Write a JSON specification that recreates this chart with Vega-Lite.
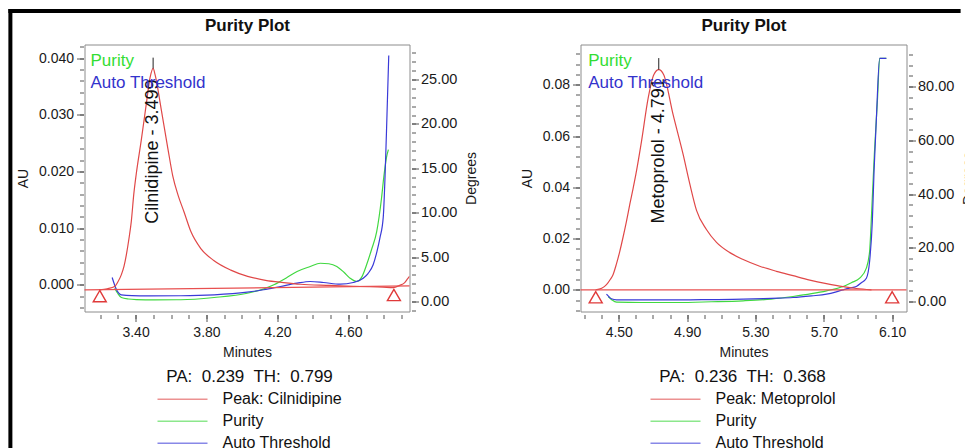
{
  "$schema": "https://vega.github.io/schema/vega-lite/v6.json",
  "padding": {"left": 6.5, "top": 7.5, "right": 0, "bottom": 0},
  "background": "white",
  "spacing": 171,
  "bounds": "flush",
  "resolve": {"scale": {"color": "independent"}, "legend": {"color": "independent"}},
  "datasets": {
    "peakL": [
      {"t":3.198,"v":-0.0009},{"t":3.240,"v":-0.0007},{"t":3.282,"v":-0.0003},{"t":3.300,"v":0.0005},{"t":3.320,"v":0.0018},{"t":3.335,"v":0.0033},{"t":3.348,"v":0.0053},{"t":3.362,"v":0.0080},{"t":3.376,"v":0.0112},{"t":3.390,"v":0.0160},{"t":3.404,"v":0.0196},{"t":3.432,"v":0.0255},{"t":3.460,"v":0.0318},{"t":3.482,"v":0.0366},{"t":3.499,"v":0.0382},{"t":3.510,"v":0.0371},{"t":3.544,"v":0.0311},{"t":3.582,"v":0.0241},{"t":3.610,"v":0.0192},{"t":3.640,"v":0.0158},{"t":3.673,"v":0.0129},{"t":3.712,"v":0.0094},{"t":3.768,"v":0.0064},{"t":3.841,"v":0.0043},{"t":3.937,"v":0.0026},{"t":4.032,"v":0.0015},{"t":4.133,"v":0.0008},{"t":4.234,"v":0.0004},{"t":4.329,"v":0.0001},{"t":4.498,"v":-0.0001},{"t":4.667,"v":-0.0003},{"t":4.795,"v":-0.0004},{"t":4.851,"v":-0.0005},{"t":4.890,"v":-0.0001},{"t":4.918,"v":0.0004},{"t":4.935,"v":0.0011},{"t":4.945,"v":0.0015}
    ],
    "purL": [
      {"t":3.282,"v":1.50},{"t":3.300,"v":0.90},{"t":3.320,"v":0.45},{"t":3.360,"v":0.28},{"t":3.404,"v":0.22},{"t":3.507,"v":0.19},{"t":3.656,"v":0.20},{"t":3.843,"v":0.45},{"t":4.030,"v":0.93},{"t":4.120,"v":1.40},{"t":4.180,"v":1.88},{"t":4.250,"v":2.65},{"t":4.311,"v":3.38},{"t":4.385,"v":3.94},{"t":4.442,"v":4.31},{"t":4.490,"v":4.25},{"t":4.535,"v":3.94},{"t":4.575,"v":3.30},{"t":4.610,"v":2.62},{"t":4.647,"v":2.25},{"t":4.677,"v":2.80},{"t":4.703,"v":4.13},{"t":4.731,"v":5.86},{"t":4.760,"v":7.88},{"t":4.787,"v":11.6},{"t":4.800,"v":14.0},{"t":4.815,"v":16.2},{"t":4.826,"v":17.1}
    ],
    "thrL": [
      {"t":3.268,"v":2.70},{"t":3.292,"v":1.35},{"t":3.320,"v":0.75},{"t":3.380,"v":0.66},{"t":3.470,"v":0.64},{"t":3.656,"v":0.65},{"t":3.843,"v":0.75},{"t":4.030,"v":1.05},{"t":4.123,"v":1.32},{"t":4.217,"v":1.69},{"t":4.311,"v":2.06},{"t":4.385,"v":2.25},{"t":4.460,"v":2.14},{"t":4.554,"v":1.95},{"t":4.628,"v":2.14},{"t":4.684,"v":2.62},{"t":4.711,"v":3.15},{"t":4.740,"v":4.13},{"t":4.761,"v":5.60},{"t":4.778,"v":7.13},{"t":4.797,"v":9.5},{"t":4.808,"v":14.6},{"t":4.818,"v":21.0},{"t":4.828,"v":27.7}
    ],
    "peakR": [
      {"t":4.365,"v":0.0000},{"t":4.400,"v":0.0006},{"t":4.428,"v":0.0020},{"t":4.450,"v":0.0040},{"t":4.467,"v":0.0060},{"t":4.486,"v":0.0100},{"t":4.506,"v":0.0150},{"t":4.525,"v":0.0205},{"t":4.545,"v":0.0267},{"t":4.565,"v":0.0335},{"t":4.584,"v":0.0396},{"t":4.600,"v":0.0450},{"t":4.633,"v":0.0579},{"t":4.672,"v":0.0748},{"t":4.705,"v":0.0839},{"t":4.734,"v":0.0859},{"t":4.763,"v":0.0839},{"t":4.818,"v":0.0683},{"t":4.877,"v":0.0527},{"t":4.915,"v":0.0415},{"t":4.955,"v":0.0310},{"t":5.013,"v":0.0235},{"t":5.072,"v":0.0185},{"t":5.150,"v":0.0145},{"t":5.228,"v":0.0118},{"t":5.325,"v":0.0092},{"t":5.423,"v":0.0072},{"t":5.520,"v":0.0055},{"t":5.618,"v":0.0038},{"t":5.715,"v":0.0024},{"t":5.813,"v":0.0012},{"t":5.891,"v":0.0005},{"t":5.979,"v":0.0000}
    ],
    "purR": [
      {"t":4.438,"v":1.86},{"t":4.460,"v":0.60},{"t":4.487,"v":-0.26},{"t":4.633,"v":-0.37},{"t":4.838,"v":-0.37},{"t":5.042,"v":-0.10},{"t":5.228,"v":0.26},{"t":5.393,"v":0.90},{"t":5.520,"v":1.86},{"t":5.628,"v":2.90},{"t":5.716,"v":3.98},{"t":5.813,"v":5.58},{"t":5.861,"v":7.0},{"t":5.910,"v":8.67},{"t":5.949,"v":12.4},{"t":5.968,"v":18.6},{"t":5.982,"v":36},{"t":5.996,"v":55},{"t":6.014,"v":75},{"t":6.027,"v":90.5},{"t":6.066,"v":90.5}
    ],
    "thrR": [
      {"t":4.428,"v":2.72},{"t":4.445,"v":1.6},{"t":4.457,"v":1.0},{"t":4.487,"v":0.63},{"t":4.633,"v":0.60},{"t":4.838,"v":0.60},{"t":5.042,"v":0.70},{"t":5.228,"v":0.86},{"t":5.393,"v":1.20},{"t":5.520,"v":1.49},{"t":5.628,"v":2.10},{"t":5.716,"v":2.72},{"t":5.773,"v":3.60},{"t":5.813,"v":4.35},{"t":5.850,"v":5.0},{"t":5.890,"v":5.58},{"t":5.920,"v":7.0},{"t":5.949,"v":8.67},{"t":5.968,"v":14.9},{"t":5.984,"v":29.8},{"t":5.994,"v":48.4},{"t":6.007,"v":67.0},{"t":6.027,"v":90.5},{"t":6.066,"v":90.5}
    ],
    "baseL": [{"t":3.112,"v":-0.0009},{"t":4.945,"v":-0.0002}],
    "triL": [{"t":3.198,"v":-0.0020},{"t":4.857,"v":-0.0018}],
    "tipL": [{"t":3.499,"v":0.0382,"v2":0.0401}],
    "lblL": [{"t":3.499,"v":0.0108,"label":"Cilnidipine - 3.499"}],
    "keyL": [{"t":3.146,"v":0.0387,"label":"Purity"},{"t":3.146,"v":0.0347,"label":"Auto Threshold"}],
    "baseR": [{"t":4.276,"v":0.0},{"t":6.184,"v":0.0}],
    "triR": [{"t":4.365,"v":-0.0029},{"t":6.10,"v":-0.0029}],
    "tipR": [{"t":4.734,"v":0.0859,"v2":0.0904}],
    "lblR": [{"t":4.734,"v":0.0259,"label":"Metoprolol - 4.791"}],
    "keyR": [{"t":4.321,"v":0.0875,"label":"Purity"},{"t":4.321,"v":0.0786,"label":"Auto Threshold"}]
  },
  "hconcat": [
    {
      "width": 325,
      "height": 267,
      "resolve": {"scale": {"y": "independent"}, "axis": {"x": "independent"}},
      "layer": [
        {
          "data": {"values": [{}]},
          "mark": {"type": "rule", "color": "#000", "strokeWidth": 4, "strokeCap": "square"},
          "encoding": {
            "x": {"datum": 2.694, "type": "quantitative", "scale": {"domain": [3.112, 4.945], "nice": false, "zero": false}, "axis": null},
            "y": {"datum": 0.04833, "type": "quantitative", "scale": {"domain": [-0.00471, 0.04242], "nice": false, "zero": false}, "axis": null},
            "y2": {"datum": -0.0285}
          }
        },
        {
          "data": {"values": [{}]},
          "mark": {"type": "rule", "color": "#000", "strokeWidth": 4, "strokeCap": "square"},
          "encoding": {
            "x": {"datum": 2.694, "type": "quantitative", "scale": {"domain": [3.112, 4.945], "nice": false, "zero": false}, "axis": null},
            "x2": {"datum": 8.042},
            "y": {"datum": 0.04833, "type": "quantitative", "scale": {"domain": [-0.00471, 0.04242], "nice": false, "zero": false}, "axis": null}
          }
        },
        {
          "data": {"name": "purL"},
          "transform": [{"calculate": "'Purity'", "as": "series"}],
          "mark": {"type": "line", "strokeWidth": 1.2, "interpolate": "monotone", "clip": true},
          "encoding": {
            "x": {"field": "t", "type": "quantitative", "scale": {"domain": [3.112, 4.945], "nice": false, "zero": false}, "axis": null},
            "y": {"field": "v", "type": "quantitative", "scale": {"domain": [-1.126, 28.94], "nice": false, "zero": false},
                  "axis": {"orient": "right", "values": [0, 5, 10, 15, 20, 25], "format": ".2f", "title": "Degrees", "titleAngle": 270, "titleBaseline": "top", "offset": 2, "tickSize": 7, "labelPadding": 2, "titlePadding": 8, "labelFontSize": 14.5}},
            "color": {"field": "series", "type": "nominal", "scale": {"domain": ["Peak: Cilnidipine", "Purity", "Auto Threshold"], "range": ["#e04848", "#40d840", "#3a3ad8"]}}
          }
        },
        {
          "data": {"name": "thrL"},
          "transform": [{"calculate": "'Auto Threshold'", "as": "series"}],
          "mark": {"type": "line", "strokeWidth": 1.2, "interpolate": "monotone", "clip": true},
          "encoding": {
            "x": {"field": "t", "type": "quantitative", "scale": {"domain": [3.112, 4.945], "nice": false, "zero": false}, "axis": null},
            "y": {"field": "v", "type": "quantitative", "scale": {"domain": [-1.126, 28.94], "nice": false, "zero": false},
                  "axis": {"orient": "right", "values": [-1,0,1,2,3,4,5,6,7,8,9,10,11,12,13,14,15,16,17,18,19,20,21,22,23,24,25,26,27,28], "labels": false, "title": null, "offset": 2, "tickSize": 4}},
            "color": {"field": "series", "type": "nominal", "scale": {"domain": ["Peak: Cilnidipine", "Purity", "Auto Threshold"], "range": ["#e04848", "#40d840", "#3a3ad8"]}}
          }
        },
        {
          "data": {"name": "peakL"},
          "transform": [{"calculate": "'Peak: Cilnidipine'", "as": "series"}],
          "mark": {"type": "line", "strokeWidth": 1.2, "interpolate": "monotone", "clip": true},
          "encoding": {
            "x": {"field": "t", "type": "quantitative", "scale": {"domain": [3.112, 4.945], "nice": false, "zero": false},
                  "axis": {"orient": "bottom", "values": [3.4, 3.8, 4.2, 4.6], "format": ".2f", "title": "Minutes", "offset": 3, "tickSize": 7, "labelPadding": 4, "titlePadding": 6}},
            "y": {"field": "v", "type": "quantitative", "scale": {"domain": [-0.00471, 0.04242], "nice": false, "zero": false},
                  "axis": {"orient": "left", "values": [0, 0.01, 0.02, 0.03, 0.04], "format": ".3f", "title": "AU", "offset": 1, "tickSize": 7, "labelPadding": 3, "titlePadding": 8}},
            "color": {"field": "series", "type": "nominal", "scale": {"domain": ["Peak: Cilnidipine", "Purity", "Auto Threshold"], "range": ["#e04848", "#40d840", "#3a3ad8"]},
                      "legend": {"orient": "none", "legendX": 72, "legendY": 324, "direction": "vertical", "title": "PA:\u00a0 0.239\u00a0 TH:\u00a0 0.799", "titleFontSize": 17, "titleFontWeight": "normal", "titleAnchor": "middle", "titleBaseline": "top", "titlePadding": 3, "titleColor": "#111", "titleLimit": 400, "labelFontSize": 16, "labelColor": "#111", "labelOffset": 14, "labelLimit": 300, "symbolType": "stroke", "symbolSize": 2500, "symbolStrokeWidth": 1.5, "symbolOpacity": 0.6, "clipHeight": 21.5, "rowPadding": 0, "padding": 0}}
          }
        },
        {
          "data": {"name": "baseL"},
          "mark": {"type": "line", "color": "#e85050", "strokeWidth": 1.3},
          "encoding": {
            "x": {"field": "t", "type": "quantitative", "scale": {"domain": [3.112, 4.945], "nice": false, "zero": false},
                  "axis": {"orient": "bottom", "values": [3.2,3.3,3.4,3.5,3.6,3.7,3.8,3.9,4.0,4.1,4.2,4.3,4.4,4.5,4.6,4.7,4.8,4.9], "labels": false, "title": null, "offset": 3, "tickSize": 4}},
            "y": {"field": "v", "type": "quantitative", "scale": {"domain": [-0.00471, 0.04242], "nice": false, "zero": false},
                  "axis": {"orient": "left", "values": [-0.004,-0.002,0,0.002,0.004,0.006,0.008,0.01,0.012,0.014,0.016,0.018,0.02,0.022,0.024,0.026,0.028,0.03,0.032,0.034,0.036,0.038,0.04,0.042], "labels": false, "title": null, "offset": 1, "tickSize": 4}}
          }
        },
        {
          "data": {"name": "triL"},
          "mark": {"type": "point", "shape": "triangle-up", "filled": false, "color": "#e03a3a", "size": 170, "strokeWidth": 1.4, "opacity": 1},
          "encoding": {
            "x": {"field": "t", "type": "quantitative", "scale": {"domain": [3.112, 4.945], "nice": false, "zero": false},
                  "axis": {"orient": "top", "title": "Purity Plot", "labels": false, "ticks": false, "domain": false, "titleFontSize": 17, "titleFontWeight": "bold", "titleBaseline": "alphabetic", "titlePadding": 14.5, "titleColor": "#111", "offset": 0}},
            "y": {"field": "v", "type": "quantitative", "scale": {"domain": [-0.00471, 0.04242], "nice": false, "zero": false}, "axis": null}
          }
        },
        {
          "data": {"name": "tipL"},
          "mark": {"type": "rule", "color": "#222", "strokeWidth": 1},
          "encoding": {
            "x": {"field": "t", "type": "quantitative", "scale": {"domain": [3.112, 4.945], "nice": false, "zero": false}, "axis": null},
            "y": {"field": "v", "type": "quantitative", "scale": {"domain": [-0.00471, 0.04242], "nice": false, "zero": false}, "axis": null},
            "y2": {"field": "v2"}
          }
        },
        {
          "data": {"name": "lblL"},
          "mark": {"type": "text", "angle": 270, "align": "left", "baseline": "middle", "fontSize": 18, "color": "#111"},
          "encoding": {
            "x": {"field": "t", "type": "quantitative", "scale": {"domain": [3.112, 4.945], "nice": false, "zero": false}, "axis": null},
            "y": {"field": "v", "type": "quantitative", "scale": {"domain": [-0.00471, 0.04242], "nice": false, "zero": false}, "axis": null},
            "text": {"field": "label"}
          }
        },
        {
          "data": {"name": "keyL"},
          "mark": {"type": "text", "align": "left", "baseline": "alphabetic", "fontSize": 17},
          "encoding": {
            "x": {"field": "t", "type": "quantitative", "scale": {"domain": [3.112, 4.945], "nice": false, "zero": false}, "axis": null},
            "y": {"field": "v", "type": "quantitative", "scale": {"domain": [-0.00471, 0.04242], "nice": false, "zero": false}, "axis": null},
            "text": {"field": "label"},
            "color": {"condition": {"test": "datum.label === 'Purity'", "value": "#33dd33"}, "value": "#3333cc"}
          }
        }
      ]
    },
    {
      "width": 326,
      "height": 267,
      "resolve": {"scale": {"y": "independent"}, "axis": {"x": "independent"}},
      "layer": [
        {
          "data": {"name": "purR"},
          "transform": [{"calculate": "'Purity'", "as": "series"}],
          "mark": {"type": "line", "strokeWidth": 1.2, "interpolate": "monotone", "clip": true},
          "encoding": {
            "x": {"field": "t", "type": "quantitative", "scale": {"domain": [4.276, 6.184], "nice": false, "zero": false}, "axis": null},
            "y": {"field": "v", "type": "quantitative", "scale": {"domain": [-3.72, 95.63], "nice": false, "zero": false},
                  "axis": {"orient": "right", "values": [0, 20, 40, 60, 80], "format": ".2f", "title": "Degrees", "titleAngle": 270, "titleBaseline": "top", "offset": 2, "tickSize": 7, "labelPadding": 2, "titlePadding": 8, "labelFontSize": 14.5}},
            "color": {"field": "series", "type": "nominal", "scale": {"domain": ["Peak: Metoprolol", "Purity", "Auto Threshold"], "range": ["#e04848", "#40d840", "#3a3ad8"]}}
          }
        },
        {
          "data": {"name": "thrR"},
          "transform": [{"calculate": "'Auto Threshold'", "as": "series"}],
          "mark": {"type": "line", "strokeWidth": 1.2, "interpolate": "monotone", "clip": true},
          "encoding": {
            "x": {"field": "t", "type": "quantitative", "scale": {"domain": [4.276, 6.184], "nice": false, "zero": false}, "axis": null},
            "y": {"field": "v", "type": "quantitative", "scale": {"domain": [-3.72, 95.63], "nice": false, "zero": false},
                  "axis": {"orient": "right", "values": [0,4,8,12,16,20,24,28,32,36,40,44,48,52,56,60,64,68,72,76,80,84,88,92], "labels": false, "title": null, "offset": 2, "tickSize": 4}},
            "color": {"field": "series", "type": "nominal", "scale": {"domain": ["Peak: Metoprolol", "Purity", "Auto Threshold"], "range": ["#e04848", "#40d840", "#3a3ad8"]}}
          }
        },
        {
          "data": {"name": "peakR"},
          "transform": [{"calculate": "'Peak: Metoprolol'", "as": "series"}],
          "mark": {"type": "line", "strokeWidth": 1.2, "interpolate": "monotone", "clip": true},
          "encoding": {
            "x": {"field": "t", "type": "quantitative", "scale": {"domain": [4.276, 6.184], "nice": false, "zero": false},
                  "axis": {"orient": "bottom", "values": [4.5, 4.9, 5.3, 5.7, 6.1], "format": ".2f", "title": "Minutes", "offset": 3, "tickSize": 7, "labelPadding": 4, "titlePadding": 6}},
            "y": {"field": "v", "type": "quantitative", "scale": {"domain": [-0.00847, 0.0957], "nice": false, "zero": false},
                  "axis": {"orient": "left", "values": [0, 0.02, 0.04, 0.06, 0.08], "format": ".2f", "title": "AU", "offset": 1, "tickSize": 7, "labelPadding": 3, "titlePadding": 8}},
            "color": {"field": "series", "type": "nominal", "scale": {"domain": ["Peak: Metoprolol", "Purity", "Auto Threshold"], "range": ["#e04848", "#40d840", "#3a3ad8"]},
                      "legend": {"orient": "none", "legendX": 69, "legendY": 324, "direction": "vertical", "title": "PA:\u00a0 0.236\u00a0 TH:\u00a0 0.368", "titleFontSize": 17, "titleFontWeight": "normal", "titleAnchor": "middle", "titleBaseline": "top", "titlePadding": 3, "titleColor": "#111", "titleLimit": 400, "labelFontSize": 16, "labelColor": "#111", "labelOffset": 14, "labelLimit": 300, "symbolType": "stroke", "symbolSize": 2500, "symbolStrokeWidth": 1.5, "symbolOpacity": 0.6, "clipHeight": 21.5, "rowPadding": 0, "padding": 0}}
          }
        },
        {
          "data": {"name": "baseR"},
          "mark": {"type": "line", "color": "#e85050", "strokeWidth": 1.3},
          "encoding": {
            "x": {"field": "t", "type": "quantitative", "scale": {"domain": [4.276, 6.184], "nice": false, "zero": false},
                  "axis": {"orient": "bottom", "values": [4.3,4.4,4.5,4.6,4.7,4.8,4.9,5.0,5.1,5.2,5.3,5.4,5.5,5.6,5.7,5.8,5.9,6.0,6.1], "labels": false, "title": null, "offset": 3, "tickSize": 4}},
            "y": {"field": "v", "type": "quantitative", "scale": {"domain": [-0.00847, 0.0957], "nice": false, "zero": false},
                  "axis": {"orient": "left", "values": [-0.008,-0.004,0,0.004,0.008,0.012,0.016,0.02,0.024,0.028,0.032,0.036,0.04,0.044,0.048,0.052,0.056,0.06,0.064,0.068,0.072,0.076,0.08,0.084,0.088,0.092], "labels": false, "title": null, "offset": 1, "tickSize": 4}}
          }
        },
        {
          "data": {"name": "triR"},
          "mark": {"type": "point", "shape": "triangle-up", "filled": false, "color": "#e03a3a", "size": 170, "strokeWidth": 1.4, "opacity": 1},
          "encoding": {
            "x": {"field": "t", "type": "quantitative", "scale": {"domain": [4.276, 6.184], "nice": false, "zero": false},
                  "axis": {"orient": "top", "title": "Purity Plot", "labels": false, "ticks": false, "domain": false, "titleFontSize": 17, "titleFontWeight": "bold", "titleBaseline": "alphabetic", "titlePadding": 14.5, "titleColor": "#111", "offset": 0}},
            "y": {"field": "v", "type": "quantitative", "scale": {"domain": [-0.00847, 0.0957], "nice": false, "zero": false}, "axis": null}
          }
        },
        {
          "data": {"name": "tipR"},
          "mark": {"type": "rule", "color": "#222", "strokeWidth": 1},
          "encoding": {
            "x": {"field": "t", "type": "quantitative", "scale": {"domain": [4.276, 6.184], "nice": false, "zero": false}, "axis": null},
            "y": {"field": "v", "type": "quantitative", "scale": {"domain": [-0.00847, 0.0957], "nice": false, "zero": false}, "axis": null},
            "y2": {"field": "v2"}
          }
        },
        {
          "data": {"name": "lblR"},
          "mark": {"type": "text", "angle": 270, "align": "left", "baseline": "middle", "fontSize": 18, "color": "#111"},
          "encoding": {
            "x": {"field": "t", "type": "quantitative", "scale": {"domain": [4.276, 6.184], "nice": false, "zero": false}, "axis": null},
            "y": {"field": "v", "type": "quantitative", "scale": {"domain": [-0.00847, 0.0957], "nice": false, "zero": false}, "axis": null},
            "text": {"field": "label"}
          }
        },
        {
          "data": {"name": "keyR"},
          "mark": {"type": "text", "align": "left", "baseline": "alphabetic", "fontSize": 17},
          "encoding": {
            "x": {"field": "t", "type": "quantitative", "scale": {"domain": [4.276, 6.184], "nice": false, "zero": false}, "axis": null},
            "y": {"field": "v", "type": "quantitative", "scale": {"domain": [-0.00847, 0.0957], "nice": false, "zero": false}, "axis": null},
            "text": {"field": "label"},
            "color": {"condition": {"test": "datum.label === 'Purity'", "value": "#33dd33"}, "value": "#3333cc"}
          }
        }
      ]
    }
  ],
  "config": {
    "font": "Liberation Sans",
    "view": {"stroke": "#8c8c8c", "strokeWidth": 1},
    "axis": {"grid": false, "domain": false, "labelFontSize": 14, "labelColor": "#1a1a1a", "tickColor": "#555", "tickWidth": 1, "titleFontSize": 14, "titleFontWeight": "normal", "titleColor": "#1a1a1a", "labelFlush": false, "labelFont": "Liberation Sans", "titleFont": "Liberation Sans"},
    "legend": {"labelFont": "Liberation Sans", "titleFont": "Liberation Sans"},
    "text": {"font": "Liberation Sans"}
  }
}
